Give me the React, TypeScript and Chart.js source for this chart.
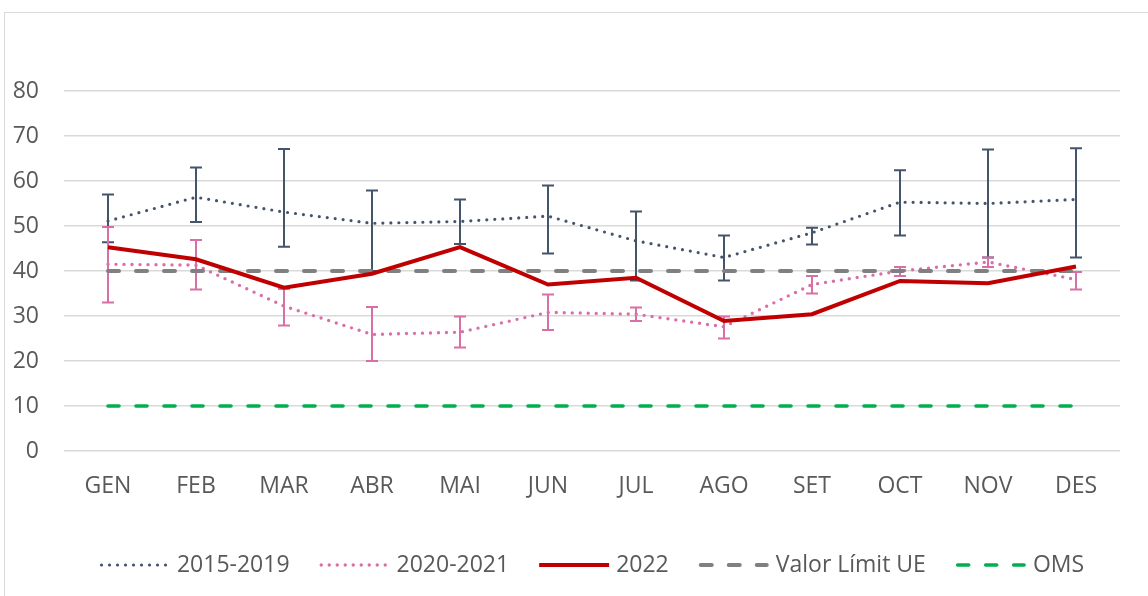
import React, { useEffect, useRef } from "react";
import { Chart, registerables } from "chart.js";

Chart.register(...registerables);

const months = ["GEN", "FEB", "MAR", "ABR", "MAI", "JUN", "JUL", "AGO", "SET", "OCT", "NOV", "DES"];

const avg2015_2019 = [51.1, 56.4, 53.1, 50.6, 51.0, 52.2, 46.7, 43.0, 48.5, 55.3, 55.0, 55.9];
const err2015_2019: [number, number][] = [
  [46.4, 57.0], [50.9, 63.0], [45.4, 67.1], [40.0, 57.9], [46.0, 55.9], [43.9, 59.0],
  [37.9, 53.2], [37.9, 47.9], [45.9, 49.6], [47.9, 62.4], [43.0, 67.0], [43.0, 67.3],
];

const avg2020_2021 = [41.5, 41.3, 32.2, 25.9, 26.4, 30.8, 30.4, 27.6, 37.0, 40.0, 42.0, 38.1];
const err2020_2021: [number, number][] = [
  [33.0, 49.8], [35.9, 46.9], [27.9, 36.0], [20.0, 32.0], [23.0, 29.9], [26.9, 34.8],
  [28.9, 31.9], [25.0, 29.9], [35.0, 38.9], [38.9, 40.9], [40.9, 43.0], [35.9, 39.8],
];

const values2022 = [45.3, 42.6, 36.3, 39.4, 45.3, 37.0, 38.5, 28.9, 30.4, 37.8, 37.3, 41.0];
const limitUE = [40, 40, 40, 40, 40, 40, 40, 40, 40, 40, 40, 40];
const limitOMS = [10, 10, 10, 10, 10, 10, 10, 10, 10, 10, 10, 10];

const yTicks = [0, 10, 20, 30, 40, 50, 60, 70, 80];

const FONT = "'Open Sans', 'Noto Sans', sans-serif";
const TEXT = "#595959";
const DARK = "#44546a";
const PINK = "#d96fa8";
const RED = "#c00000";
const GRAY = "#808080";
const GREEN = "#00b050";

const errorBars: Record<number, { data: [number, number][]; color: string }> = {
  0: { data: err2015_2019, color: DARK },
  1: { data: err2020_2021, color: PINK },
};

const errorBarPlugin = {
  id: "errorBars",
  afterDatasetDraw(chart: any, args: any) {
    const eb = errorBars[args.index];
    if (!eb) return;
    const { ctx } = chart;
    const y = chart.scales.y;
    const meta = args.meta;
    ctx.save();
    ctx.strokeStyle = eb.color;
    ctx.lineWidth = 2;
    ctx.lineCap = "butt";
    eb.data.forEach(([lo, hi], i) => {
      const x = meta.data[i].x;
      const y1 = y.getPixelForValue(lo);
      const y2 = y.getPixelForValue(hi);
      ctx.beginPath();
      ctx.moveTo(x, y1);
      ctx.lineTo(x, y2);
      ctx.moveTo(x - 6, y1);
      ctx.lineTo(x + 6, y1);
      ctx.moveTo(x - 6, y2);
      ctx.lineTo(x + 6, y2);
      ctx.stroke();
    });
    ctx.restore();
  },
};

const legendPlugin = {
  id: "customLegend",
  afterDraw(chart: any) {
    const { ctx, chartArea } = chart;
    const items = chart.data.datasets.map((d: any) => d);
    ctx.save();
    ctx.font = `23px ${FONT}`;
    const sampleW = 70;
    const textGap = 7;
    const itemGap = 30;
    const widths = items.map((d: any) => ctx.measureText(d.label).width);
    const total = widths.reduce((a: number, w: number) => a + sampleW + textGap + w, 0) + itemGap * (items.length - 1);
    let x = (chartArea.left + chartArea.right) / 2 - total / 2;
    const yc = 565;
    items.forEach((d: any, i: number) => {
      ctx.save();
      ctx.strokeStyle = d.borderColor;
      ctx.lineWidth = d.borderWidth;
      ctx.lineCap = d.borderCapStyle || "butt";
      ctx.setLineDash(d.borderDash || []);
      ctx.beginPath();
      const pad = d.borderCapStyle === "round" ? d.borderWidth / 2 : 0;
      ctx.moveTo(x + pad, yc);
      ctx.lineTo(x + sampleW - pad, yc);
      ctx.stroke();
      ctx.restore();
      ctx.fillStyle = TEXT;
      ctx.textBaseline = "middle";
      ctx.textAlign = "left";
      ctx.fillText(d.label, x + sampleW + textGap, yc);
      x += sampleW + textGap + widths[i] + itemGap;
    });
    ctx.restore();
  },
};

export default function App() {
  const ref = useRef<HTMLCanvasElement | null>(null);
  useEffect(() => {
    if (!ref.current) return;
    const chart = new Chart(ref.current, {
      type: "line",
      data: {
        labels: months,
        datasets: [
          {
            label: "2015-2019",
            data: avg2015_2019,
            borderColor: DARK,
            backgroundColor: DARK,
            borderWidth: 3.2,
            borderDash: [0, 8],
            borderCapStyle: "round",
            pointRadius: 0,
            order: 3,
          },
          {
            label: "2020-2021",
            data: avg2020_2021,
            borderColor: PINK,
            backgroundColor: PINK,
            borderWidth: 3.4,
            borderDash: [0, 8],
            borderCapStyle: "round",
            pointRadius: 0,
            order: 2,
          },
          {
            label: "2022",
            data: values2022,
            borderColor: RED,
            backgroundColor: RED,
            borderWidth: 4,
            pointRadius: 0,
            order: 0,
          },
          {
            label: "Valor Límit UE",
            data: limitUE,
            borderColor: GRAY,
            backgroundColor: GRAY,
            borderWidth: 4,
            borderDash: [11, 17],
            borderCapStyle: "round",
            pointRadius: 0,
            order: 1,
          },
          {
            label: "OMS",
            data: limitOMS,
            borderColor: GREEN,
            backgroundColor: GREEN,
            borderWidth: 3.6,
            borderDash: [11, 17],
            borderCapStyle: "round",
            pointRadius: 0,
            order: 1,
          },
        ],
      },
      options: {
        responsive: false,
        animation: false,
        devicePixelRatio: 1,
        layout: { padding: { top: 91, right: 28, left: 0, bottom: 0 } },
        plugins: {
          legend: { display: false },
          tooltip: { enabled: false },
          title: { display: false },
        },
        scales: {
          x: {
            offset: true,
            grid: { display: false, drawTicks: false },
            border: { display: false },
            ticks: {
              color: TEXT,
              font: { family: FONT, size: 23 },
              padding: 22,
              maxRotation: 0,
            },
            afterFit(scale: any) {
              scale.height = 145;
            },
          },
          y: {
            min: 0,
            max: 80,
            afterBuildTicks(scale: any) {
              scale.ticks = yTicks.map((v) => ({ value: v }));
            },
            grid: { color: "#d9d9d9", lineWidth: 1.5, drawTicks: false },
            border: { display: false },
            ticks: {
              color: TEXT,
              font: { family: FONT, size: 23 },
              padding: 25,
            },
            afterFit(scale: any) {
              scale.width = 64;
            },
          },
        },
      },
      plugins: [errorBarPlugin, legendPlugin],
    } as any);
    return () => chart.destroy();
  }, []);

  return (
    <>
      <div
        style={{
          position: "fixed",
          left: 4,
          top: 12,
          width: 1160,
          height: 600,
          border: "1px solid #d9d9d9",
          boxSizing: "border-box",
        }}
      />
      <canvas
        ref={ref}
        width={1148}
        height={596}
        style={{ position: "fixed", left: 0, top: 0, width: 1148, height: 596 }}
      />
    </>
  );
}
